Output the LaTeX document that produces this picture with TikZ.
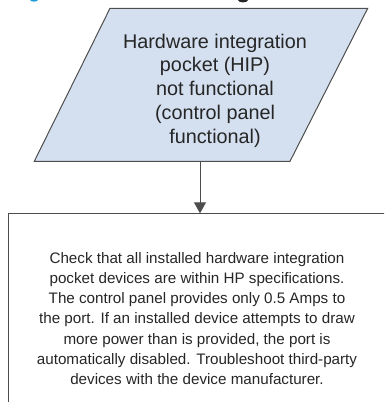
\documentclass[tikz,border=0pt]{standalone}
\usepackage{fontspec}
\setmainfont{Liberation Sans}
\usetikzlibrary{arrows.meta}
\definecolor{hipfill}{HTML}{D4E0F0}
\definecolor{edgegray}{HTML}{4D4D4D}
\definecolor{txt}{HTML}{262626}
\definecolor{titleblue}{HTML}{1A9AD6}
\tikzset{
  outline/.style={draw=edgegray, line width=1pt},
  toptext/.style={text=txt, align=center, font=\fontsize{19.8}{23.8}\selectfont, inner sep=0pt},
  boxtext/.style={text=txt, align=center, font=\fontsize{15.2}{20.1}\selectfont, inner sep=0pt},
  flowarrow/.style={draw=edgegray, line width=1pt, -{Triangle[length=11pt,width=12pt]}}
}
\begin{document}
\begin{tikzpicture}[x=1pt,y=-1pt]
\useasboundingbox (0,0) rectangle (384,402);
\clip (0,0) rectangle (384,402);
% title fragments cut off at the top
\fill[titleblue] (34,0) ellipse (4 and 1.6);
\fill[txt] (243,0) ellipse (5 and 2.4);
% parallelogram
\path[outline, fill=hipfill] (110,8.3) -- (367.7,8.3) -- (290,161.3) -- (34.3,161.3) -- cycle;
\node[toptext] (hip) at (215,90.5) {Hardware integration\\pocket (HIP)\\not functional\\(control panel\\functional)};
\coordinate (hipbottom) at (200,161.3);
% check box (clipped)
\path[outline] (8.3,420) -- (8.3,213.3) -- (400,213.3);
\coordinate (boxtop) at (200,213.3);
\node[boxtext] (check) at (197,318.5) {Check that all installed hardware integration\\pocket devices are within HP specifications.\\The control panel provides only 0.5 Amps to\\the port. If an installed device attempts to draw\\more power than is provided, the port is\\automatically disabled. Troubleshoot third-party\\devices with the device manufacturer.};
\draw[flowarrow] (hipbottom) -- (boxtop);
\end{tikzpicture}
\end{document}
